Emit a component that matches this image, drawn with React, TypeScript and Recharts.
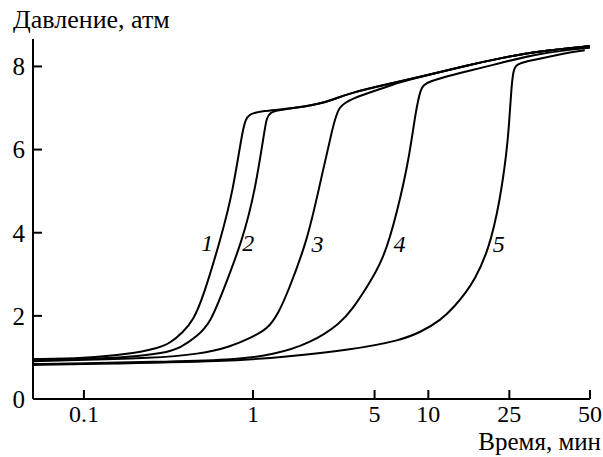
import React from 'react';
import { LineChart, Line, XAxis, YAxis, ReferenceDot, Label } from 'recharts';

// ---- axis definitions ----
const TICK_TIMES = [0.1, 1, 5, 10, 25, 50];
const Y_TICKS = [0, 2, 4, 6, 8];
// the time axis of the original figure is a piecewise logarithmic axis:
// log10(time) -> axis position (in "decades" from 0.1)
const SCALE_LOG = [-1, 0, Math.log10(5), 1, Math.log10(25), Math.log10(50)];
const SCALE_POS = [0, 1, 1.719, 2.037, 2.516, 2.993];

// ---- series (time, min ; pressure, atm) ----
const TIME_1 = [0.05, 0.1, 0.187, 0.271, 0.324, 0.386, 0.443, 0.507, 0.64, 0.764, 0.876, 0.938, 1.13, 1.64, 2.44, 3.0, 3.64, 5.6, 9.06, 15.6, 22.7, 32, 50];
const PRES_1 = [0.96, 0.98, 1.08, 1.22, 1.34, 1.61, 1.89, 2.45, 3.81, 5.01, 6.62, 6.86, 6.93, 6.98, 7.1, 7.23, 7.36, 7.55, 7.75, 8.03, 8.2, 8.37, 8.49];

const TIME_2 = [0.05, 0.1, 0.187, 0.294, 0.371, 0.468, 0.558, 0.667, 0.865, 1.03, 1.18, 1.22, 1.64, 2.44, 3.0, 3.64, 5.6, 9.06, 15.6, 22.7, 32, 50];
const PRES_2 = [0.94, 0.96, 1.01, 1.1, 1.22, 1.51, 1.82, 2.61, 3.81, 5.01, 6.62, 6.93, 6.98, 7.1, 7.23, 7.36, 7.55, 7.75, 8.03, 8.2, 8.37, 8.49];

const TIME_3 = [0.05, 0.1, 0.246, 0.488, 0.733, 0.99, 1.21, 1.4, 1.6, 2.05, 2.38, 2.9, 3.1, 3.64, 5.6, 7.0, 9.06, 15.6, 22.7, 32, 50];
const PRES_3 = [0.91, 0.94, 0.98, 1.08, 1.25, 1.49, 1.68, 2.06, 2.61, 3.81, 5.01, 6.62, 7.03, 7.22, 7.48, 7.63, 7.75, 8.03, 8.2, 8.37, 8.49];

const TIME_4 = [0.05, 0.1, 0.246, 0.764, 1.31, 2.14, 3.19, 3.75, 4.39, 5.61, 6.72, 7.76, 8.5, 9.06, 9.67, 15.6, 22.7, 32, 50];
const PRES_4 = [0.84, 0.86, 0.89, 0.94, 1.06, 1.34, 1.82, 2.18, 2.61, 3.33, 4.53, 5.73, 6.93, 7.48, 7.63, 7.89, 8.08, 8.32, 8.45];

const TIME_5 = [0.05, 0.1, 0.764, 1.5, 3.64, 7.0, 9.06, 11.5, 13.6, 15.3, 16.7, 19.8, 22.5, 24.3, 24.9, 25.5, 25.9, 26.4, 30.1, 40, 47.8];
const PRES_5 = [0.82, 0.84, 0.91, 1.01, 1.18, 1.41, 1.61, 1.89, 2.25, 2.57, 2.83, 3.57, 4.77, 5.97, 6.58, 7.58, 7.89, 8.06, 8.14, 8.32, 8.39];

// curve number labels: time, pressure
const LABEL_TEXT = ['1', '2', '3', '4', '5'];
const LABEL_TIME = [0.536, 0.939, 2.35, 6.9, 22.2];
const LABEL_PRES = [3.77, 3.77, 3.74, 3.74, 3.74];

function toU(t: number): number {
  const l = Math.log10(t);
  const n = SCALE_LOG.length;
  for (let i = 0; i < n - 1; i++) {
    if (l <= SCALE_LOG[i + 1] || i === n - 2) {
      const a = SCALE_LOG[i];
      const b = SCALE_LOG[i + 1];
      return SCALE_POS[i] + ((l - a) / (b - a)) * (SCALE_POS[i + 1] - SCALE_POS[i]);
    }
  }
  return 0;
}

const build = (ts: number[], ps: number[]) => ts.map((t, i) => ({ u: toU(t), p: ps[i] }));

const SERIES = [
  build(TIME_1, PRES_1),
  build(TIME_2, PRES_2),
  build(TIME_3, PRES_3),
  build(TIME_4, PRES_4),
  build(TIME_5, PRES_5),
];

const FONT = '"Liberation Serif", "Times New Roman", serif';
const TXT = { fontFamily: FONT };

const fmtX = (v: number) => {
  const t = TICK_TIMES.find((x) => Math.abs(toU(x) - v) < 1e-6);
  return t === undefined ? '' : String(t);
};

export default function App() {
  return (
    <div style={{ position: 'absolute', left: 0, top: 0, width: 603, height: 457, background: '#fff', fontFamily: FONT }}>
      <LineChart width={603} height={457} margin={{ top: 39, right: 13, bottom: 0, left: 0 }} style={TXT}>
        <XAxis
          type="number"
          dataKey="u"
          domain={[toU(0.05), toU(50)]}
          ticks={TICK_TIMES.map(toU)}
          tickFormatter={fmtX}
          interval={0}
          allowDataOverflow
          height={58}
          tickSize={-9}
          tickMargin={15}
          axisLine={{ stroke: '#000', strokeWidth: 2 }}
          tickLine={{ stroke: '#000', strokeWidth: 2 }}
          tick={{ fill: '#000', fontSize: 24, fontFamily: FONT, style: TXT }}
        />
        <YAxis
          type="number"
          domain={[0, 8.66]}
          ticks={Y_TICKS}
          interval={0}
          allowDataOverflow
          width={33}
          tickSize={-9}
          tickMargin={17}
          axisLine={{ stroke: '#000', strokeWidth: 2 }}
          tickLine={{ stroke: '#000', strokeWidth: 2 }}
          tick={{ fill: '#000', fontSize: 25, fontFamily: FONT, style: TXT }}
        />
        {SERIES.map((d, i) => (
          <Line
            key={i}
            data={d}
            dataKey="p"
            type="basis"
            stroke="#000"
            strokeWidth={2}
            dot={false}
            activeDot={false}
            isAnimationActive={false}
          />
        ))}
        {LABEL_TEXT.map((s, i) => (
          <ReferenceDot
            key={'l' + i}
            x={toU(LABEL_TIME[i])}
            y={LABEL_PRES[i]}
            r={0}
            fill="none"
            stroke="none"
            label={
              <Label
                value={s}
                position="center"
                fill="#000"
                fontSize={24}
                fontStyle="italic"
                fontFamily={FONT}
                style={TXT}
              />
            }
          />
        ))}
      </LineChart>
      <svg
        width={603}
        height={457}
        style={{ position: 'absolute', left: 0, top: 0, pointerEvents: 'none' }}
      >
        <text x={13} y={28} fontSize={26} style={TXT} fill="#000">
          Давление, атм
        </text>
        <text x={601} y={450} fontSize={25} style={TXT} fill="#000" textAnchor="end">
          Время, мин
        </text>
      </svg>
    </div>
  );
}
